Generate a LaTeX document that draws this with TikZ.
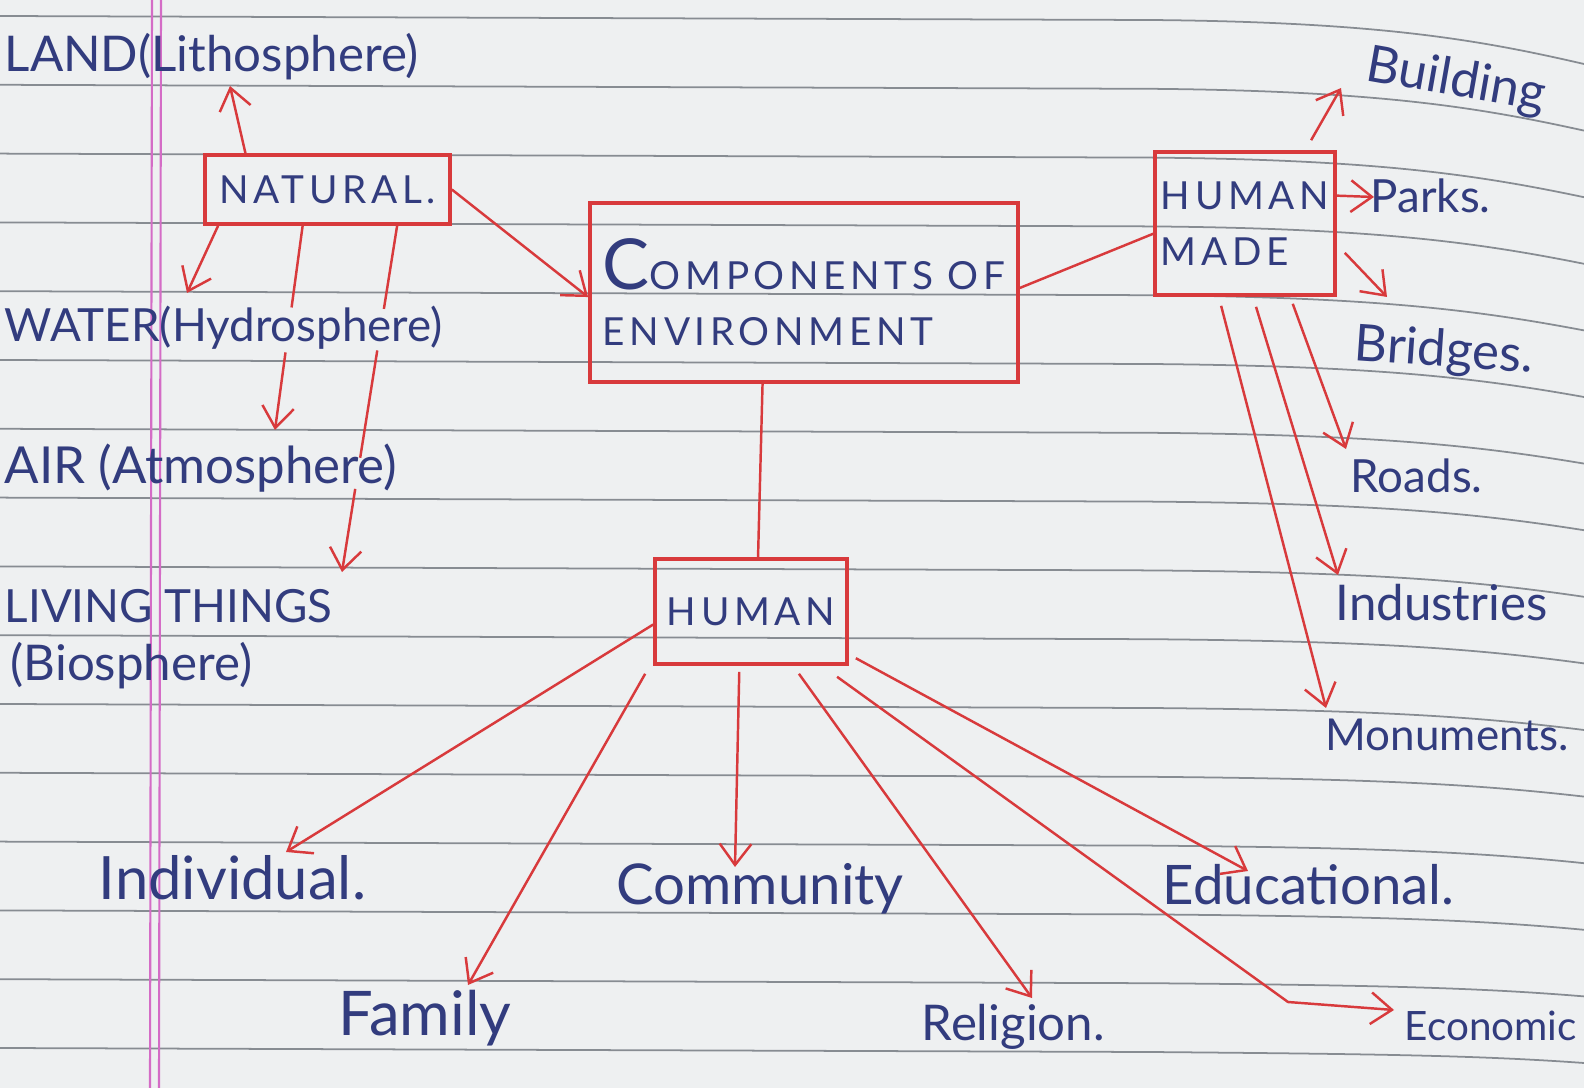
\documentclass[tikz,border=0pt]{standalone}
\usepackage{fontspec}
\setmainfont{Lato}
\newfontfamily\capsfont[LetterSpace=12]{Lato}
\usetikzlibrary{arrows.meta,calc}

\definecolor{paper}{HTML}{EEF0F1}
\definecolor{rule}{HTML}{878C92}
\definecolor{margin}{HTML}{D46CC6}
\definecolor{ink}{HTML}{323C7E}
\definecolor{redpen}{HTML}{D83A3C}

\begin{document}
\begin{tikzpicture}[x=0.01cm,y=-0.01cm,
  >={Straight Barb[length=6pt,width=9pt]},
  arr/.style={->,draw=redpen,line width=0.7pt},
  line/.style={draw=redpen,line width=0.7pt},
  box/.style={rectangle,draw=redpen,line width=1pt,text=ink,inner sep=0pt,
    font=\capsfont\fontsize{11}{16}\selectfont},
  leaf/.style={text=ink,inner sep=0pt,font=\fontsize{#1}{#1}\selectfont},
  ruled/.style={draw=rule,line width=0.5pt}]

  \useasboundingbox (0,0) rectangle (1584,1088);
  \clip (0,0) rectangle (1584,1088);
  \fill[paper] (0,0) rectangle (1584,1088);

  % notebook ruling, bending down at the right edge
  \foreach \k in {0,...,15}{
    \pgfmathsetmacro{\yy}{16+68.8*\k}
    \pgfmathsetmacro{\dd}{48-2.2*\k}
    \draw[ruled] (0,\yy) -- (1150,\yy+4)
      .. controls (1380,\yy+6) and (1480,\yy+0.5*\dd) .. (1584,\yy+\dd);
  }
  \draw[margin,line width=0.6pt] (152,0) -- (150,1088) (161,0) -- (159,1088);

  % boxes
  \node[box,minimum width=2.45cm,minimum height=0.69cm] (nat) at (327.5,189.5) {NATURAL.};
  \node[box,minimum width=4.28cm,minimum height=1.79cm,align=left] (comp) at (804,292.5)
    {{\fontsize{20}{20}\selectfont C}OMPONENTS OF\\ENVIRONMENT};
  \node[box,minimum width=1.80cm,minimum height=1.43cm,align=left] (hm) at (1245,223.5)
    {HUMAN\\MADE};
  \node[box,minimum width=1.92cm,minimum height=1.05cm] (hu) at (751,611.5) {HUMAN};

  % natural side
  \node[leaf=14,anchor=base west] (land) at (4,72) {LAND(Lithosphere)};
  \node[leaf=13,anchor=base west] (water) at (4,342) {WATER(Hydrosphere)};
  \node[leaf=14.5,anchor=base west] (air) at (4,483) {AIR (Atmosphere)};
  \node[leaf=13,anchor=base west] (living) at (4,623) {LIVING THINGS};
  \node[leaf=14,anchor=base west] (bio) at (10,680) {(Biosphere)};
  \coordinate (land-in) at (230,86);
  \coordinate (water-in) at (187,293);
  \coordinate (air-in) at (275,430);
  \coordinate (living-in) at (342,572);

  % human made side
  \node[leaf=14.5,anchor=base west,rotate=-10] (build) at (1364,80) {Building};
  \node[leaf=13,anchor=base west] (parks) at (1370,213) {Parks.};
  \node[leaf=14.5,anchor=base west,rotate=-4] (bridge) at (1353,360) {Bridges.};
  \node[leaf=13,anchor=base west] (roads) at (1350,492) {Roads.};
  \node[leaf=14,anchor=base west] (indus) at (1335,620) {Industries};
  \node[leaf=12.5,anchor=base west] (monu) at (1325,750) {Monuments.};
  \coordinate (build-in) at (1341,88);
  \coordinate (parks-in) at (1374,197);
  \coordinate (bridge-in) at (1387,297);
  \coordinate (roads-in) at (1346,449);
  \coordinate (indus-in) at (1338,575);
  \coordinate (monu-in) at (1326,708);

  % human side
  \node[leaf=17,anchor=base west] (indiv) at (98,899) {Individual.};
  \node[leaf=16,anchor=base west] (comm) at (616,904) {Community};
  \node[leaf=15.5,anchor=base west] (edu) at (1162,904) {Educational.};
  \node[leaf=17.5,anchor=base west] (fam) at (338,1035) {Family};
  \node[leaf=14,anchor=base west] (rel) at (921,1040) {Religion.};
  \node[leaf=11.5,anchor=base west] (econ) at (1404,1040) {Economic};
  \coordinate (indiv-in) at (286,852);
  \coordinate (fam-in) at (468,985);
  \coordinate (comm-in) at (735,867);
  \coordinate (rel-in) at (1032,998);
  \coordinate (econ-bend) at (1288,1002);
  \coordinate (econ-in) at (1394,1010);
  \coordinate (edu-in) at (1248,871);

  % links between the boxes
  \draw[arr] (nat.east) -- ($(comp.north west)!0.525!(comp.south west)$);
  \draw[line] ($(comp.north east)!0.475!(comp.south east)$) -- ($(hm.north west)!0.57!(hm.south west)$);
  \draw[line] ($(comp.south west)!0.404!(comp.south east)$) -- ($(hu.north west)!0.536!(hu.north east)$);

  % natural
  \draw[arr] ($(nat.north west)!0.17!(nat.north east)$) -- (land-in);
  \draw[arr] ($(nat.south west)!0.06!(nat.south east)$) -- (water-in);
  \draw[arr] ($(nat.south west)!0.40!(nat.south east)$) coordinate (a)
    -- ($(a)!.40!(air-in)$) ($(a)!.62!(air-in)$) -- (air-in);
  \draw[arr] ($(nat.south west)!0.78!(nat.south east)$) coordinate (b)
    -- ($(b)!.24!(living-in)$) ($(b)!.36!(living-in)$) -- ($(b)!.67!(living-in)$)
    ($(b)!.76!(living-in)$) -- (living-in);

  % human made
  \draw[arr] ($(hm.north west)!0.86!(hm.north east)+(0,-10)$) -- (build-in);
  \draw[arr] ($(hm.north east)!0.31!(hm.south east)$) -- (parks-in);
  \draw[arr] ($(hm.north east)!0.70!(hm.south east)+(8,0)$) -- (bridge-in);
  \draw[arr] ($(hm.south west)!0.76!(hm.south east)+(0,7)$) -- (roads-in);
  \draw[arr] ($(hm.south west)!0.56!(hm.south east)+(0,10)$) -- (indus-in);
  \draw[arr] ($(hm.south west)!0.37!(hm.south east)+(0,9)$) -- (monu-in);

  % human
  \draw[arr] ($(hu.north west)!0.62!(hu.south west)$) -- (indiv-in);
  \draw[arr] ($(hu.south west)+(-8,8)$) -- (fam-in);
  \draw[arr] ($(hu.south west)!0.44!(hu.south east)+(0,6)$) -- (comm-in);
  \draw[arr] ($(hu.south west)!0.745!(hu.south east)+(0,8)$) -- (rel-in);
  \draw[arr] ($(hu.south west)!0.94!(hu.south east)+(0,11)$) -- (econ-bend) -- (econ-in);
  \draw[arr] ($(hu.north east)!0.93!(hu.south east)+(7,0)$) -- (edu-in);
\end{tikzpicture}
\end{document}
